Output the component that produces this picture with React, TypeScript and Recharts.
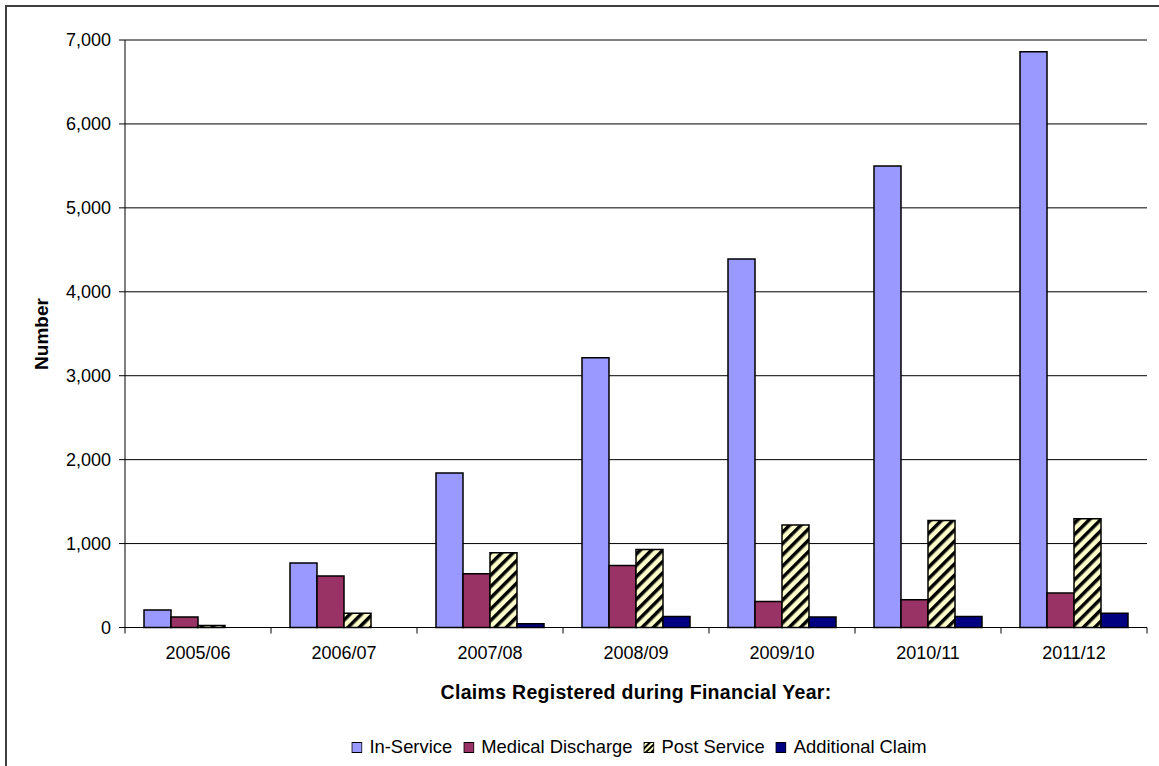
import React from 'react';
import { BarChart, Bar, XAxis, YAxis, CartesianGrid } from 'recharts';

const categories = ['2005/06', '2006/07', '2007/08', '2008/09', '2009/10', '2010/11', '2011/12'];
const inService = [210, 770, 1840, 3215, 4390, 5500, 6860];
const medicalDischarge = [125, 615, 640, 740, 310, 330, 410];
const postService = [25, 170, 890, 930, 1220, 1275, 1295];
const additionalClaim = [0, 0, 45, 130, 125, 130, 170];
const yTicks = [0, 1000, 2000, 3000, 4000, 5000, 6000, 7000];

const data = categories.map((year, i) => ({
  year,
  inService: inService[i],
  medical: medicalDischarge[i],
  post: postService[i],
  additional: additionalClaim[i],
}));

const FONT = '"Liberation Sans", Arial, sans-serif';
const W = 1159;
const H = 766;
const PLOT_LEFT = 125;
const PLOT_RIGHT = 1147;
const BAND = (PLOT_RIGHT - PLOT_LEFT) / categories.length;

const legendItems = [
  { label: 'In-Service', fill: '#9999FF' },
  { label: 'Medical Discharge', fill: '#993366' },
  { label: 'Post Service', fill: 'url(#hatch)' },
  { label: 'Additional Claim', fill: '#000080' },
];

const XTick = (props: any) => {
  const { x, y, payload, index } = props;
  const last = index === categories.length - 1;
  return (
    <g>
      <line x1={x - BAND / 2} x2={x - BAND / 2} y1={y} y2={y + 6} stroke="#000" />
      {last && <line x1={x + BAND / 2} x2={x + BAND / 2} y1={y} y2={y + 6} stroke="#000" />}
      <text x={x} y={y + 31} textAnchor="middle" fontSize={18} fontFamily={FONT} fill="#000">
        {payload.value}
      </text>
    </g>
  );
};

const LegendSwatch = ({ fill }: { fill: string }) => (
  <svg width={11} height={11} style={{ marginRight: 7 }}>
    <defs>
      <pattern id="hatchSmall" width="4" height="4" patternUnits="userSpaceOnUse" patternTransform="rotate(45)">
        <rect width="4" height="4" fill="#FFFFCC" />
        <rect width="2" height="4" fill="#000" />
      </pattern>
    </defs>
    <rect x={0.5} y={0.5} width={10} height={10} fill={fill === 'url(#hatch)' ? 'url(#hatchSmall)' : fill} stroke="#000" />
  </svg>
);

export default function App() {
  return (
    <div style={{ position: 'absolute', left: 0, top: 0, width: W, height: H, overflow: 'hidden', background: '#fff', fontFamily: FONT }}>
      <div style={{ position: 'absolute', left: 5, top: 5, width: W + 20, height: H + 20, border: '2px solid #404040' }} />
      <div style={{ position: 'absolute', left: 0, top: 0 }}>
        <BarChart
          width={W}
          height={H}
          data={data}
          margin={{ top: 40, right: W - PLOT_RIGHT, left: 0, bottom: 98.5 }}
          barGap={0}
          barSize={27}
        >
          <defs>
            <pattern id="hatch" width="8" height="8" patternUnits="userSpaceOnUse" patternTransform="rotate(45)">
              <rect width="8" height="8" fill="#FFFFCC" />
              <rect width="3.5" height="8" fill="#000" />
            </pattern>
          </defs>
          <CartesianGrid vertical={false} stroke="#000" strokeWidth={1} />
          <XAxis
            dataKey="year"
            height={40}
            axisLine={{ stroke: '#000' }}
            tickLine={false}
            tickSize={0}
            tickMargin={0}
            tick={<XTick />}
            interval={0}
          />
          <YAxis
            width={PLOT_LEFT}
            domain={[0, 7000]}
            ticks={yTicks}
            axisLine={{ stroke: '#000' }}
            tickLine={{ stroke: '#000' }}
            tickSize={6}
            tickMargin={8}
            tickFormatter={(v: number) => v.toLocaleString('en-US')}
            tick={{ fontSize: 18, fontFamily: FONT, fill: '#000' }}
          />
          <Bar dataKey="inService" fill="#9999FF" stroke="#000" strokeWidth={1.5} isAnimationActive={false} />
          <Bar dataKey="medical" fill="#993366" stroke="#000" strokeWidth={1.5} isAnimationActive={false} />
          <Bar dataKey="post" fill="url(#hatch)" stroke="#000" strokeWidth={1.5} isAnimationActive={false} />
          <Bar dataKey="additional" fill="#000080" stroke="#000" strokeWidth={1.5} isAnimationActive={false} />
        </BarChart>
      </div>
      <div
        style={{
          position: 'absolute',
          left: 42,
          top: 334,
          transform: 'translate(-50%, -50%) rotate(-90deg)',
          fontWeight: 'bold',
          fontSize: 19,
          whiteSpace: 'nowrap',
        }}
      >
        Number
      </div>
      <div
        style={{
          position: 'absolute',
          left: (PLOT_LEFT + PLOT_RIGHT) / 2,
          top: 692,
          transform: 'translate(-50%, -50%)',
          fontWeight: 'bold',
          fontSize: 19.5,
          letterSpacing: 0.3,
          whiteSpace: 'nowrap',
        }}
      >
        Claims Registered during Financial Year:
      </div>
      <div
        style={{
          position: 'absolute',
          left: 639,
          top: 747,
          transform: 'translate(-50%, -50%)',
          display: 'flex',
          alignItems: 'center',
          fontSize: 18.4,
          whiteSpace: 'nowrap',
        }}
      >
        {legendItems.map((it, i) => (
          <div key={it.label} style={{ display: 'flex', alignItems: 'center', marginRight: i === legendItems.length - 1 ? 0 : 11 }}>
            <LegendSwatch fill={it.fill} />
            <span>{it.label}</span>
          </div>
        ))}
      </div>
    </div>
  );
}
